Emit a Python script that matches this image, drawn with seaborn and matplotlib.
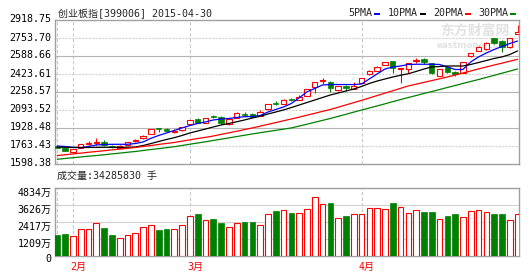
import numpy as np
import pandas as pd
import matplotlib
matplotlib.use("Agg")
import matplotlib.pyplot as plt
from matplotlib.patches import Rectangle
from matplotlib.transforms import ScaledTranslation, blended_transform_factory
import seaborn as sns

# ---------------- data ----------------
title = "创业板指[399006] 2015-04-30"
vol_title = "成交量:34285830 手"
price_ticks = [1598.38, 1763.43, 1928.48, 2093.52, 2258.57, 2423.61, 2588.66, 2753.70, 2918.75]
vol_ticks = [0, 1209, 2417, 3626, 4834]
vol_tick_labels = ["0", "1209万", "2417万", "3626万", "4834万"]
month_pos = [2, 17, 39]
month_labels = ["2月", "3月", "4月"]
grid_x = [0, 2, 17, 39]
ma_names = ["5PMA", "10PMA", "20PMA", "30PMA"]

opens = [1766, 1742, 1711, 1748, 1784, 1788, 1803, 1761, 1748, 1773, 1809, 1834, 1871, 1926, 1919,
         1892, 1907, 1968, 2008, 1977, 2034, 2032, 1965, 2017, 2061, 2054, 2041, 2100, 2155, 2146,
         2190, 2185, 2222, 2307, 2355, 2353, 2277, 2316, 2286, 2344, 2421, 2454, 2506, 2543, 2465,
         2467, 2543, 2557, 2522, 2405, 2491, 2445, 2436, 2589, 2635, 2650, 2751, 2726, 2674, 2788]
highs = [1773, 1750, 1736, 1782, 1805, 1834, 1814, 1773, 1773, 1803, 1832, 1860, 1919, 1926, 1929,
         1915, 1942, 2006, 2023, 2020, 2052, 2039, 2011, 2071, 2075, 2069, 2089, 2153, 2172, 2190,
         2199, 2231, 2286, 2350, 2384, 2359, 2318, 2323, 2353, 2387, 2456, 2497, 2534, 2547, 2483,
         2529, 2566, 2566, 2525, 2470, 2497, 2451, 2538, 2616, 2678, 2720, 2754, 2735, 2754, 2873]
lows = [1741, 1718, 1704, 1745, 1773, 1773, 1768, 1745, 1742, 1768, 1797, 1832, 1869, 1895, 1901,
        1883, 1901, 1965, 1974, 1974, 2017, 1965, 1956, 2016, 2043, 2029, 2039, 2098, 2135, 2144,
        2172, 2183, 2219, 2252, 2332, 2261, 2268, 2271, 2282, 2341, 2419, 2451, 2502, 2430, 2338,
        2430, 2525, 2515, 2424, 2401, 2433, 2405, 2433, 2584, 2630, 2644, 2703, 2628, 2662, 2786]
closes = [1748, 1720, 1733, 1779, 1793, 1797, 1773, 1752, 1768, 1797, 1819, 1855, 1917, 1917, 1904,
          1901, 1940, 2002, 1977, 2017, 2025, 1972, 2008, 2063, 2052, 2032, 2078, 2149, 2146, 2185,
          2181, 2210, 2283, 2348, 2369, 2293, 2316, 2293, 2316, 2384, 2454, 2485, 2531, 2476, 2479,
          2527, 2554, 2538, 2430, 2467, 2445, 2421, 2536, 2613, 2674, 2705, 2711, 2668, 2751, 2811]
volume = [1500, 1571, 1404, 1904, 1904, 2332, 2000, 1500, 1261, 1476, 1618, 2047, 2190, 1856, 1928,
          1928, 2190, 2832, 2951, 2547, 2642, 2380, 2047, 2332, 2451, 2451, 2190, 2975, 3213, 3261,
          3070, 3070, 3332, 4189, 3713, 3784, 2689, 2856, 2975, 2975, 3403, 3403, 3332, 3784, 3475,
          3046, 3261, 3142, 3142, 2618, 2856, 2999, 2761, 3189, 3261, 3118, 2999, 2999, 2547, 2975]
ma5 = [1763, 1759, 1750, 1748, 1759, 1773, 1777, 1779, 1779, 1779, 1786, 1800, 1834, 1860, 1883,
       1906, 1929, 1951, 1970, 1984, 2002, 2011, 2016, 2025, 2032, 2034, 2043, 2075, 2098, 2121,
       2153, 2204, 2259, 2291, 2323, 2327, 2327, 2327, 2327, 2332, 2378, 2424, 2469, 2488, 2497,
       2511, 2513, 2513, 2513, 2511, 2488, 2465, 2465, 2534, 2580, 2616, 2648, 2676, 2703, 2726]
ma10 = [1752, 1752, 1751, 1750, 1750, 1751, 1752, 1751, 1751, 1752, 1754, 1768, 1786, 1805, 1823,
        1840, 1860, 1883, 1901, 1919, 1938, 1956, 1970, 1986, 2002, 2020, 2036, 2057, 2075, 2094,
        2116, 2139, 2162, 2185, 2208, 2231, 2249, 2268, 2286, 2309, 2337, 2359, 2378, 2396, 2412,
        2426, 2447, 2469, 2488, 2492, 2497, 2497, 2497, 2511, 2529, 2547, 2566, 2580, 2602, 2635]
ma20 = [1676, 1683, 1691, 1698, 1706, 1713, 1720, 1728, 1735, 1742, 1750, 1759, 1768, 1778, 1787,
        1796, 1808, 1820, 1832, 1843, 1855, 1870, 1884, 1899, 1914, 1929, 1945, 1962, 1978, 1995,
        2011, 2028, 2046, 2063, 2081, 2098, 2119, 2140, 2161, 2182, 2204, 2226, 2248, 2270, 2292,
        2314, 2330, 2347, 2363, 2380, 2396, 2414, 2433, 2451, 2470, 2488, 2506, 2523, 2541, 2558]
ma30 = [1642, 1649, 1656, 1663, 1670, 1676, 1683, 1691, 1698, 1706, 1713, 1722, 1731, 1739, 1748,
        1757, 1768, 1780, 1791, 1802, 1814, 1826, 1838, 1850, 1862, 1874, 1885, 1896, 1907, 1918,
        1929, 1946, 1963, 1981, 1998, 2016, 2035, 2054, 2074, 2093, 2112, 2131, 2150, 2170, 2189,
        2208, 2226, 2245, 2263, 2281, 2300, 2318, 2337, 2355, 2373, 2392, 2411, 2431, 2450, 2470]

# ---------------- style ----------------
sns.set_theme(style="white")
MONO = ["DejaVu Sans Mono", "Noto Sans CJK SC"]
plt.rcParams["font.family"] = MONO
FS = 7.2
RED, GREEN, BLUE, BLACK = "#ff0000", "#008000", "#0000ff", "#000000"
SPINE = "#a0a0a0"

W, H = 532, 272
fig = plt.figure(figsize=(W / 100, H / 100), dpi=100)
fig.patch.set_facecolor("white")


def fx(px):
    return px / W


def fy(py):
    return 1 - py / H


ax = fig.add_axes([fx(55), fy(164), fx(519) - fx(55), fy(20) - fy(164)])
axv = fig.add_axes([fx(55), fy(256), fx(519) - fx(55), fy(188) - fy(256)])

n = len(closes)
x = np.arange(n)
o = np.array(opens, float)
c = np.array(closes, float)
hi = np.array(highs, float)
lo = np.array(lows, float)
up = c >= o
cols = np.where(up, RED, GREEN)

XL = (-0.295, 59.19)

for a in (ax, axv):
    a.set_facecolor("white")
    for s in a.spines.values():
        s.set_color(SPINE)
        s.set_linewidth(1.0)
    a.set_xlim(*XL)
    a.set_xticks([])
    for gx in grid_x:
        a.axvline(gx, color="#c8c8c8", lw=0.8, ls=(0, (3, 2)), zorder=0.5)

ax.set_ylim(price_ticks[0], price_ticks[-1])
ax.set_yticks(price_ticks)
ax.set_yticklabels([f"{t:.2f}" for t in price_ticks])
for i, t in enumerate(price_ticks[1:-1], start=1):
    if i % 2 == 0:
        ax.axhline(t, color="#b4b4b4", lw=0.8, zorder=0.5)
    else:
        ax.axhline(t, color="#d2d2d2", lw=0.8, ls=(0, (2, 1)), zorder=0.5)

# watermark
ax.text(0.905, 0.925, "东方财富网", transform=ax.transAxes, fontsize=10, fontweight="bold",
        family=["Noto Sans CJK SC"], color="#e2e2e2", ha="center", va="center", zorder=0.6)
ax.text(0.905, 0.825, "eastmoney.com", transform=ax.transAxes, fontsize=6.3, fontweight="bold",
        family=["DejaVu Sans"], color="#e2e2e2", ha="center", va="center", zorder=0.6)

# candles
ax.vlines(x, lo, hi, colors=cols, linewidth=0.8, zorder=2)
body_bottom = np.minimum(o, c)
body_h = np.maximum(np.abs(c - o), 6)
ax.bar(x[up], body_h[up], bottom=body_bottom[up], width=0.68, facecolor="white",
       edgecolor=RED, linewidth=0.8, zorder=3)
ax.bar(x[~up], body_h[~up], bottom=body_bottom[~up], width=0.68, facecolor=GREEN,
       edgecolor=GREEN, linewidth=0.5, zorder=3)

# moving averages
ma_df = pd.DataFrame({
    "idx": np.tile(x, 4),
    "value": ma5 + ma10 + ma20 + ma30,
    "line": np.repeat(ma_names, n),
})
sns.lineplot(data=ma_df, x="idx", y="value", hue="line", ax=ax, legend=False,
             palette={"5PMA": BLUE, "10PMA": BLACK, "20PMA": RED, "30PMA": GREEN},
             linewidth=0.9, zorder=4)
ax.set_xlim(*XL)
ax.set_xlabel("")
ax.set_ylabel("")

# volume
vol = np.array(volume, float)
axv.bar(x[up], vol[up], width=0.72, facecolor="white", edgecolor=RED, linewidth=0.8, zorder=3)
axv.bar(x[~up], vol[~up], width=0.72, facecolor=GREEN, edgecolor=GREEN, linewidth=0.5, zorder=3)
axv.set_ylim(0, 4834)
axv.set_yticks(vol_ticks)
axv.set_yticklabels(vol_tick_labels)
for t in vol_ticks[1:-1]:
    axv.axhline(t, color="#d2d2d2", lw=0.8, zorder=0.5)

for a in (ax, axv):
    a.tick_params(axis="y", length=0, pad=2.5, labelsize=FS, labelcolor="#000000")
    a.tick_params(axis="x", length=0)

for lab in ax.get_yticklabels():
    lab.set_transform(lab.get_transform() + ScaledTranslation(0, 1.5 / 100, fig.dpi_scale_trans))
for lab in axv.get_yticklabels():
    off = -2 if lab.get_text() == "0" else -4
    lab.set_transform(lab.get_transform() + ScaledTranslation(0, off / 100, fig.dpi_scale_trans))

# month labels
trans = blended_transform_factory(axv.transData, axv.transAxes)
for p, lab in zip(month_pos, month_labels):
    axv.text(p - 0.38, -0.16, lab, transform=trans, color=RED, fontsize=FS,
             ha="left", va="center", family=MONO)

# titles
fig.text(fx(58), fy(14), title, fontsize=FS, ha="left", va="center", family=MONO)
fig.text(fx(57), fy(176), vol_title, fontsize=FS, ha="left", va="center", family=MONO)

# legend
leg_x = [348, 388, 433, 478]
leg_c = [BLUE, BLACK, RED, GREEN]
for lx, name, col in zip(leg_x, ma_names, leg_c):
    fig.text(fx(lx), fy(13.5), name, fontsize=FS, ha="left", va="center", family=MONO)
    wpx = len(name) * 6.0
    fig.add_artist(Rectangle((fx(lx + wpx + 2), fy(14.8)), fx(6), fy(12.6) - fy(14.8),
                             transform=fig.transFigure, facecolor=col, edgecolor="none"))

fig.savefig("out.png", dpi=100, facecolor="white")
